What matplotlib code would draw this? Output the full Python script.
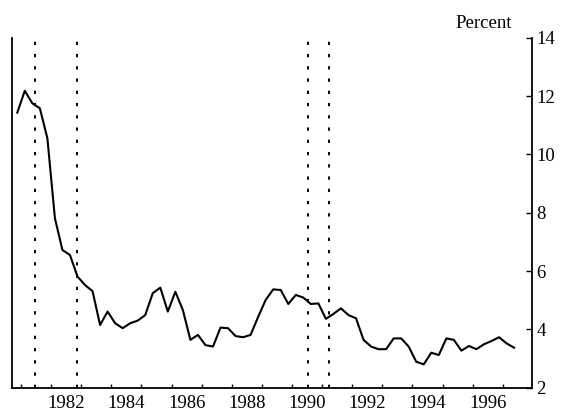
import numpy as np
import matplotlib
matplotlib.use("Agg")
from matplotlib import pyplot as plt, rcParams

rcParams["font.family"] = ["Liberation Serif", "DejaVu Serif"]

# Quarterly series, 1980Q4 to 1997Q2 (plotted at mid-quarter)
start_year = 1980.875
rate = [
    11.43, 12.18, 11.75, 11.58, 10.55, 7.81, 6.72, 6.55, 5.81, 5.52,
    5.31, 4.15, 4.61, 4.21, 4.04, 4.21, 4.30, 4.49, 5.24, 5.43,
    4.61, 5.29, 4.66, 3.64, 3.81, 3.46, 3.41, 4.06, 4.04, 3.77,
    3.73, 3.81, 4.43, 5.01, 5.37, 5.35, 4.87, 5.18, 5.09, 4.87,
    4.89, 4.36, 4.53, 4.72, 4.49, 4.38, 3.64, 3.41, 3.32, 3.32,
    3.69, 3.69, 3.41, 2.89, 2.80, 3.20, 3.12, 3.69, 3.64, 3.27,
    3.43, 3.32, 3.49, 3.60, 3.73, 3.52, 3.37,
]
# Recession start/end dates
recession_lines = [1981.48, 1982.85, 1990.54, 1991.22]
year_labels = [1982, 1984, 1986, 1988, 1990, 1992, 1994, 1996]
year_ticks = list(range(1981, 1998))
y_ticks = [2, 4, 6, 8, 10, 12, 14]

dates = start_year + 0.25 * np.arange(len(rate))

fig = plt.figure(figsize=(5.61, 4.11), dpi=100)
ax = fig.add_axes([0.0214, 0.0567, 0.9269, 0.8516])

ax.plot(dates, rate, c="k", lw=1.5)
for x in recession_lines:
    ax.axvline(x, c="k", lw=1.4, ls=(0, (1.7, 4.6)))

ax.set_xlim(1980.7, 1997.97)
ax.set_ylim(2, 14)

# year boundaries as ticks, labels centred on the year
ax.set_xticks(year_ticks)
ax.set_xticklabels([])
ax.set_xticks([y + 0.5 for y in year_labels], minor=True)
ax.set_xticklabels([str(y) for y in year_labels], minor=True)
ax.tick_params(axis="x", which="major", direction="in", length=3, width=1)
ax.tick_params(axis="x", which="minor", length=0, pad=5, labelsize=13.5)

ax.yaxis.tick_right()
ax.set_yticks(y_ticks)
ax.tick_params(axis="y", direction="in", length=4, width=1, pad=3,
               labelsize=13.5)

ax.spines["top"].set_visible(False)
for s in ["left", "right", "bottom"]:
    ax.spines[s].set_linewidth(1.3)

fig.text(0.9127, 0.933, "Percent", ha="right", va="baseline", fontsize=13.5)

fig.savefig("out.png", dpi=100)
